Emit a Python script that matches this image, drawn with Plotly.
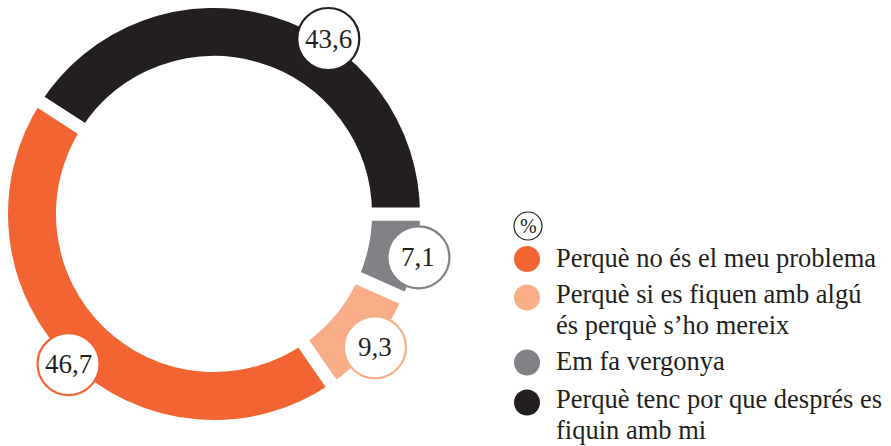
import numpy as np
import plotly.graph_objects as go

# ---------------- data ----------------
categories = [
    "Perquè no és el meu problema",
    "Perquè si es fiquen amb algú<br>és perquè s’ho mereix",
    "Em fa vergonya",
    "Perquè tenc por que després es<br>fiquin amb mi",
]
values = [46.7, 9.3, 7.1, 43.6]
unit_label = "%"

# ---------------- style ----------------
colors = ["#f26532", "#f9ae88", "#808285", "#231f20"]
text_color = "#231f20"
W, H = 891, 446
CX, CY = 214, 214          # donut centre (px, y down)
R_OUT = 212.5              # pie radius incl. half stroke
HOLE = 0.713
GAP = 13
LABEL_R = 209              # radius where value bubbles sit
LABEL_OFFSETS = [0, 0, 0, -16.7]   # degrees, bubble shift along ring
BUBBLE_R = 31
LEG_X_DOT = 527
LEG_X_TEXT = 554
LEG_DOT_Y = [259, 297.5, 362.5, 402.5]
LEG_TEXT_Y = [258, 294, 361, 398.5]
LEG_LINE_GAP = 31
NUM_FONT = "Liberation Serif"
LEG_FONT = "Liberation Serif"


def px(x):
    return x / W


def py(y):
    return 1 - y / H


vals = np.array(values, dtype=float)
ang = vals / vals.sum() * 360.0
# last slice starts at 3 o'clock, slices run counter-clockwise
rotation = 90 + ang[1] + ang[2]
theta_b = 90 - rotation
starts = (theta_b - ang[0]) + np.concatenate([[0], np.cumsum(ang)[:-1]])
mids = starts + ang / 2

fig = go.Figure()
fig.add_trace(go.Pie(
    labels=[c.replace("<br>", " ") for c in categories],
    values=values,
    sort=False,
    direction="counterclockwise",
    rotation=rotation,
    hole=HOLE,
    marker=dict(colors=colors, line=dict(color="white", width=GAP)),
    textinfo="none",
    hoverinfo="label+value",
    showlegend=False,
    domain=dict(
        x=[px(CX - R_OUT), px(CX + R_OUT)],
        y=[py(CY + R_OUT), py(CY - R_OUT)],
    ),
))

shapes = []
annotations = []

# value bubbles
for i, v in enumerate(values):
    t = np.deg2rad(mids[i] + LABEL_OFFSETS[i])
    bx = CX + LABEL_R * np.cos(t)
    by = CY - LABEL_R * np.sin(t)
    shapes.append(dict(
        type="circle", xref="paper", yref="paper",
        xsizemode="pixel", ysizemode="pixel",
        xanchor=px(bx), yanchor=py(by),
        x0=-BUBBLE_R, x1=BUBBLE_R, y0=-BUBBLE_R, y1=BUBBLE_R,
        fillcolor="white", line=dict(color=colors[i], width=2.2),
        layer="above",
    ))
    annotations.append(dict(
        x=px(bx), y=py(by), xref="paper", yref="paper",
        xanchor="center", yanchor="middle", showarrow=False,
        text=f"{v:.1f}".replace(".", ","),
        font=dict(family=NUM_FONT, size=27, color=text_color),
    ))

# legend: unit bubble
shapes.append(dict(
    type="circle", xref="paper", yref="paper",
    xsizemode="pixel", ysizemode="pixel",
    xanchor=px(528), yanchor=py(226),
    x0=-14, x1=14, y0=-14, y1=14,
    fillcolor="white", line=dict(color=text_color, width=1.2),
    layer="above",
))
annotations.append(dict(
    x=px(528), y=py(226.5), xref="paper", yref="paper",
    xanchor="center", yanchor="middle", showarrow=False,
    text=unit_label, font=dict(family=LEG_FONT, size=20, color=text_color),
))

# legend items
for i, cat in enumerate(categories):
    dy = LEG_DOT_Y[i]
    shapes.append(dict(
        type="circle", xref="paper", yref="paper",
        xsizemode="pixel", ysizemode="pixel",
        xanchor=px(LEG_X_DOT), yanchor=py(dy),
        x0=-13, x1=13, y0=-13, y1=13,
        fillcolor=colors[i], line=dict(width=0),
        layer="above",
    ))
    for j, line in enumerate(cat.split("<br>")):
        annotations.append(dict(
            x=px(LEG_X_TEXT), y=py(LEG_TEXT_Y[i] + j * LEG_LINE_GAP),
            xref="paper", yref="paper",
            xanchor="left", yanchor="middle", showarrow=False,
            text=line, font=dict(family=LEG_FONT, size=26.5, color=text_color),
        ))

fig.update_layout(
    width=W, height=H,
    margin=dict(l=0, r=0, t=0, b=0),
    paper_bgcolor="white", plot_bgcolor="white",
    shapes=shapes, annotations=annotations,
    showlegend=False,
)

fig.write_html(
    "out.html",
    config={"displayModeBar": False},
    post_script="document.body.style.margin='0';document.body.style.padding='0';",
)
